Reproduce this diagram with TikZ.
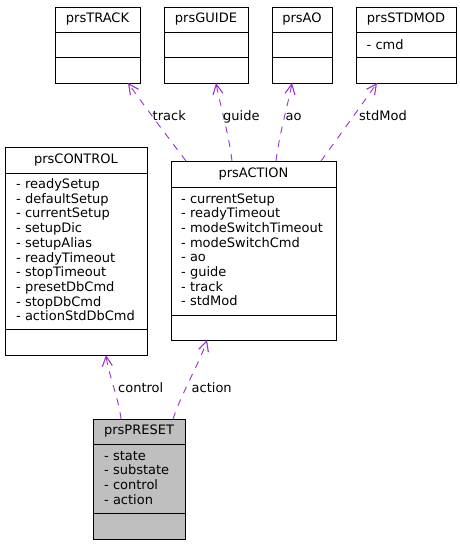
\documentclass[tikz,border=0pt]{standalone}
\usepackage{fontspec}
\setmainfont{DejaVu Sans}
\usetikzlibrary{arrows.meta}
\definecolor{edgec}{HTML}{9A32CD}
\definecolor{presetfill}{HTML}{BFBFBF}
% name, x1, y1, x2, y2, div1, div2, title, fill
\newcommand\umlclass[9]{%
  \node[box, fill=#9, minimum width={(#4-#2)*1pt}, minimum height={(#5-#3)*1pt}] (#1) at (#2,#3) {};
  \draw[boxline] (#2,#6) -- (#4,#6);
  \draw[boxline] (#2,#7) -- (#4,#7);
  \node[ttl] (#1-t) at ({(#2+#4)/2},{(#3+#6)/2}) {#8};
}
% name, x, first baseline, list
\newcommand\umlattrs[4]{%
  \foreach \t [count=\i] in {#4} {
    \node[attr] (#1-a\i) at (#2,{#3+14.7*(\i-1)}) {\t};
  }
}
\begin{document}
\begin{tikzpicture}[x=1pt,y=-1pt,
  box/.style={draw=black, line width=1pt, inner sep=0pt, outer sep=0pt, anchor=north west},
  boxline/.style={draw=black, line width=1pt},
  ttl/.style={font=\fontsize{13}{15}\selectfont, inner sep=0pt},
  attr/.style={font=\fontsize{13}{15}\selectfont, inner sep=0pt, anchor=base west},
  lbl/.style={font=\fontsize{13}{15}\selectfont, inner sep=0pt, anchor=base west},
  rel/.style={draw=edgec, line width=0.9pt, dash pattern=on 7pt off 7pt,
    -{Straight Barb[length=10pt,width=10pt,line width=1.1pt]}}
]
\useasboundingbox[fill=white] (0,0) rectangle (460,544);

\umlclass{track}{55}{7}{140}{83}{32}{57}{prsTRACK}{white}
\umlclass{guide}{164}{7}{248}{83}{32}{57}{prsGUIDE}{white}
\umlclass{ao}{272}{7}{332}{83}{32}{57}{prsAO}{white}
\umlclass{stdmod}{356}{7}{456}{83}{32}{57}{prsSTDMOD}{white}
\umlattrs{stdmod}{366.5}{49}{- cmd}

\umlclass{control}{5}{147}{147}{355}{173}{329}{prsCONTROL}{white}
\umlattrs{control}{16}{188.5}{- readySetup,- defaultSetup,- currentSetup,- setupDic,- setupAlias,- readyTimeout,- stopTimeout,- presetDbCmd,- stopDbCmd,- actionStdDbCmd}

\umlclass{action}{171}{161}{336}{340}{187}{315}{prsACTION}{white}
\umlattrs{action}{181}{203}{- currentSetup,- readyTimeout,- modeSwitchTimeout,- modeSwitchCmd,- ao,- guide,- track,- stdMod}

\umlclass{preset}{93}{419}{185}{539}{444}{513}{prsPRESET}{presetfill}
\umlattrs{preset}{104}{460}{- state,- substate,- control,- action}

% relations
\draw[rel] ([xshift=15pt]action.north west) .. controls (170,140) and (140,100) .. ([xshift=73pt]track.south west);
\draw[rel] ([xshift=61pt]action.north west) .. controls (229,135) and (219,100) .. ([xshift=52pt]guide.south west);
\draw[rel] ([xshift=105pt]action.north west) .. controls (279,135) and (289,100) .. ([xshift=20pt]ao.south west);
\draw[rel] ([xshift=150pt]action.north west) .. controls (340,135) and (365,100) .. ([xshift=21pt]stdmod.south west);
\draw[rel] ([xshift=28pt]preset.north west) .. controls (119,400) and (108,372) .. ([xshift=101pt]control.south west);
\draw[rel] ([xshift=80pt]preset.north west) .. controls (182,392) and (200,362) .. ([xshift=36pt]action.south west);

\node[lbl] (l-track) at (152.5,120) {track};
\node[lbl] (l-guide) at (223,120) {guide};
\node[lbl] (l-ao) at (285.5,120) {ao};
\node[lbl] (l-stdmod) at (359,120) {stdMod};
\node[lbl] (l-control) at (118,392) {control};
\node[lbl] (l-action) at (191.5,392) {action};
\end{tikzpicture}
\end{document}
